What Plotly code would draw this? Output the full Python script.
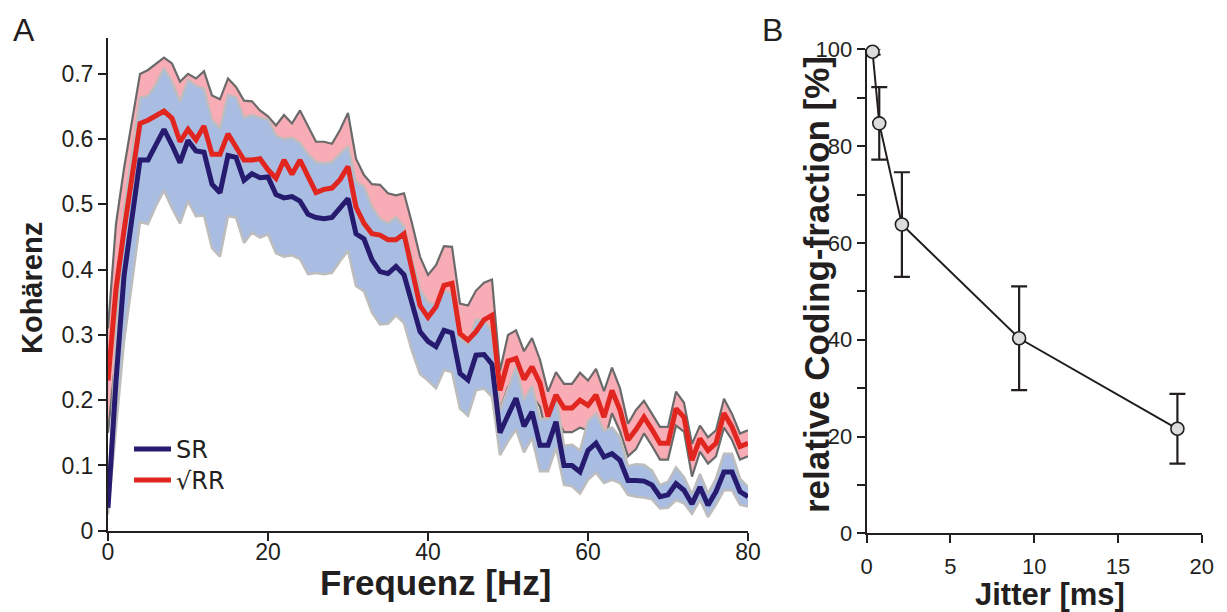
import plotly.graph_objects as go

# ---------------- Panel A data (coherence vs frequency) ----------------
freq_hz = list(range(81))

sr_mean = [0.035, 0.23, 0.39, 0.48, 0.568, 0.568, 0.591, 0.615, 0.591, 0.564,
           0.598, 0.582, 0.58, 0.531, 0.518, 0.575, 0.572, 0.537, 0.547, 0.541,
           0.542, 0.515, 0.51, 0.512, 0.505, 0.485, 0.48, 0.478, 0.48, 0.495,
           0.509, 0.455, 0.447, 0.415, 0.397, 0.394, 0.405, 0.392, 0.345, 0.305,
           0.29, 0.282, 0.307, 0.303, 0.241, 0.231, 0.269, 0.27, 0.255, 0.15,
           0.177, 0.203, 0.16, 0.182, 0.131, 0.131, 0.167, 0.1, 0.1, 0.09,
           0.123, 0.134, 0.113, 0.118, 0.108, 0.077, 0.077, 0.076, 0.07, 0.052,
           0.055, 0.072, 0.062, 0.041, 0.067, 0.039, 0.06, 0.09, 0.09, 0.06,
           0.052]

sr_sd = [0.01, 0.07, 0.1, 0.1, 0.095, 0.098, 0.093, 0.094, 0.097, 0.093,
         0.093, 0.1, 0.097, 0.098, 0.098, 0.093, 0.092, 0.096, 0.09, 0.092,
         0.088, 0.09, 0.09, 0.09, 0.089, 0.092, 0.085, 0.085, 0.085, 0.082,
         0.08, 0.08, 0.08, 0.081, 0.081, 0.077, 0.075, 0.074, 0.07, 0.065,
         0.06, 0.064, 0.061, 0.06, 0.054, 0.055, 0.054, 0.052, 0.05, 0.034,
         0.04, 0.048, 0.04, 0.04, 0.04, 0.04, 0.04, 0.03, 0.032, 0.033,
         0.045, 0.045, 0.04, 0.04, 0.035, 0.022, 0.025, 0.025, 0.022, 0.018,
         0.02, 0.025, 0.02, 0.015, 0.02, 0.018, 0.02, 0.028, 0.028, 0.02,
         0.015]

rr_mean = [0.23, 0.37, 0.46, 0.545, 0.624, 0.629, 0.637, 0.643, 0.632, 0.596,
           0.615, 0.599, 0.62, 0.577, 0.577, 0.608, 0.588, 0.568, 0.568, 0.57,
           0.553, 0.54, 0.568, 0.546, 0.568, 0.543, 0.518, 0.523, 0.525, 0.538,
           0.558, 0.496, 0.471, 0.455, 0.453, 0.446, 0.446, 0.455, 0.40, 0.345,
           0.327, 0.343, 0.376, 0.379, 0.302, 0.292, 0.305, 0.323, 0.33, 0.215,
           0.26, 0.264, 0.232, 0.251, 0.226, 0.175, 0.208, 0.188, 0.188, 0.2,
           0.192, 0.208, 0.174, 0.215, 0.185, 0.139, 0.155, 0.174, 0.155, 0.134,
           0.134, 0.187, 0.174, 0.108, 0.141, 0.123, 0.134, 0.18, 0.159, 0.129,
           0.134]

rr_sd = [0.08, 0.1, 0.095, 0.085, 0.076, 0.077, 0.079, 0.082, 0.084, 0.092,
         0.085, 0.094, 0.084, 0.09, 0.084, 0.085, 0.092, 0.091, 0.09, 0.074,
         0.082, 0.081, 0.069, 0.078, 0.076, 0.078, 0.078, 0.073, 0.068, 0.076,
         0.082, 0.074, 0.074, 0.076, 0.077, 0.071, 0.068, 0.062, 0.071, 0.075,
         0.065, 0.064, 0.06, 0.056, 0.046, 0.053, 0.063, 0.057, 0.055, 0.03,
         0.04, 0.043, 0.043, 0.044, 0.036, 0.038, 0.035, 0.037, 0.037, 0.042,
         0.038, 0.04, 0.04, 0.035, 0.033, 0.025, 0.03, 0.025, 0.025, 0.025,
         0.025, 0.026, 0.022, 0.025, 0.02, 0.02, 0.02, 0.022, 0.02, 0.02,
         0.02]

# ---------------- Panel B data (coding fraction vs jitter) ----------------
jitter_ms = [0.35, 0.75, 2.1, 9.1, 18.55]
coding_fraction = [99.5, 84.7, 63.8, 40.3, 21.6]
coding_err = [0.6, 7.5, 10.8, 10.7, 7.2]

A_xticks = [0, 20, 40, 60, 80]
A_yticks = [0, 0.1, 0.2, 0.3, 0.4, 0.5, 0.6, 0.7]
A_yticktext = ["0", "0.1", "0.2", "0.3", "0.4", "0.5", "0.6", "0.7"]
B_xticks = [0, 5, 10, 15, 20]
B_yticks = [0, 10, 20, 30, 40, 50, 60, 70, 80, 90, 100]
B_yticktext = ["0", "", "20", "", "40", "", "60", "", "80", "", "100"]

# ---------------- styling ----------------
W, H = 1227, 612
INK = "#231f20"
PINK = "#f8acb6"
BLUE = "#a9bde3"
DARK_EDGE = "#6a6a6a"
LIGHT_EDGE = "#bdbdbd"
NAVY = "#261b6e"
RED = "#e1251f"
SANS = "Liberation Sans, Arial, sans-serif"
LEGFONT = dict(family="DejaVu Sans, Lato, sans-serif", size=24, color=INK)

sr_hi = [m + s for m, s in zip(sr_mean, sr_sd)]
sr_lo = [m - s for m, s in zip(sr_mean, sr_sd)]
rr_hi = [m + s for m, s in zip(rr_mean, rr_sd)]
rr_lo = [m - s for m, s in zip(rr_mean, rr_sd)]

fig = go.Figure()


def add_band(hi, lo, fill, edge, edge_w):
    fig.add_trace(go.Scatter(x=freq_hz + freq_hz[::-1], y=hi + lo[::-1],
                             fill="toself", fillcolor=fill, line=dict(width=0),
                             mode="lines", showlegend=False, hoverinfo="skip",
                             xaxis="x", yaxis="y"))
    for edge_y in (hi, lo):
        fig.add_trace(go.Scatter(x=freq_hz, y=edge_y, mode="lines",
                                 line=dict(color=edge, width=edge_w),
                                 showlegend=False, hoverinfo="skip",
                                 xaxis="x", yaxis="y"))


add_band(rr_hi, rr_lo, PINK, DARK_EDGE, 2.2)
add_band(sr_hi, sr_lo, BLUE, LIGHT_EDGE, 2.5)

fig.add_trace(go.Scatter(x=freq_hz, y=sr_mean, mode="lines", name="SR",
                         line=dict(color=NAVY, width=5), legend="legend",
                         xaxis="x", yaxis="y"))
fig.add_trace(go.Scatter(x=freq_hz, y=rr_mean, mode="lines", name="\u221aRR",
                         line=dict(color=RED, width=5), legend="legend2",
                         xaxis="x", yaxis="y"))

# Panel B
fig.add_trace(go.Scatter(x=jitter_ms, y=coding_fraction, mode="lines+markers",
                         line=dict(color=INK, width=2),
                         marker=dict(size=13, color="#dcdcdc",
                                     line=dict(color=INK, width=1.6)),
                         error_y=dict(type="data", array=coding_err, visible=True,
                                      color=INK, thickness=2.2, width=8),
                         showlegend=False, cliponaxis=False,
                         xaxis="x2", yaxis="y2"))

axis_common = dict(showline=True, linecolor=INK, linewidth=2, ticks="outside",
                   ticklen=8, tickwidth=2, tickcolor=INK, showgrid=False,
                   zeroline=False, mirror=False, automargin=False)

fig.update_layout(
    width=W, height=H,
    margin=dict(l=0, r=0, t=0, b=0, autoexpand=False),
    paper_bgcolor="white", plot_bgcolor="white",
    xaxis=dict(domain=[108 / W, 748 / W], range=[0, 80], tickvals=A_xticks,
               anchor="y", tickfont=dict(family=SANS, size=23, color=INK),
               ticklabelstandoff=-8, **axis_common),
    yaxis=dict(domain=[(H - 530.7) / H, (H - 38) / H], range=[0, 0.755],
               tickvals=A_yticks, ticktext=A_yticktext, anchor="x",
               tickfont=dict(family=SANS, size=23, color=INK), **axis_common),
    xaxis2=dict(domain=[866.7 / W, 1201.7 / W], range=[0, 20], tickvals=B_xticks,
                anchor="y2", tickfont=dict(family=SANS, size=22, color=INK),
                ticklabelstandoff=4, **axis_common),
    yaxis2=dict(domain=[(H - 533.3) / H, (H - 49.3) / H], range=[0, 100],
                tickvals=B_yticks, ticktext=B_yticktext, anchor="x2",
                tickfont=dict(family=SANS, size=22, color=INK), **axis_common),
    legend=dict(x=129 / W, y=(H - 427) / H, xanchor="left", yanchor="top",
                bgcolor="rgba(0,0,0,0)", borderwidth=0, font=LEGFONT,
                itemwidth=37),
    legend2=dict(x=129 / W, y=(H - 458) / H, xanchor="left", yanchor="top",
                 bgcolor="rgba(0,0,0,0)", borderwidth=0, font=LEGFONT,
                 itemwidth=37),
    showlegend=True,
)

bold = dict(family=SANS, color=INK, weight="bold")
ann = [
    dict(text="Frequenz [Hz]", x=435 / W, y=(H - 582) / H, font=dict(size=35, **bold)),
    dict(text="Koh\u00e4renz", x=32 / W, y=(H - 288) / H, textangle=-90,
         font=dict(size=29, **bold)),
    dict(text="Jitter [ms]", x=1050 / W, y=(H - 594) / H, font=dict(size=31, **bold)),
    dict(text="relative Coding-fraction [%]", x=816 / W, y=(H - 285) / H,
         textangle=-90, font=dict(size=35, **bold)),
    dict(text="A", x=24 / W, y=(H - 30) / H,
         font=dict(family=SANS, size=32, color=INK)),
    dict(text="B", x=772 / W, y=(H - 30) / H,
         font=dict(family=SANS, size=32, color=INK)),
]
for a in ann:
    a.update(xref="paper", yref="paper", showarrow=False, xanchor="center",
             yanchor="middle")
fig.update_layout(annotations=ann)

fig.write_html("out.html")
